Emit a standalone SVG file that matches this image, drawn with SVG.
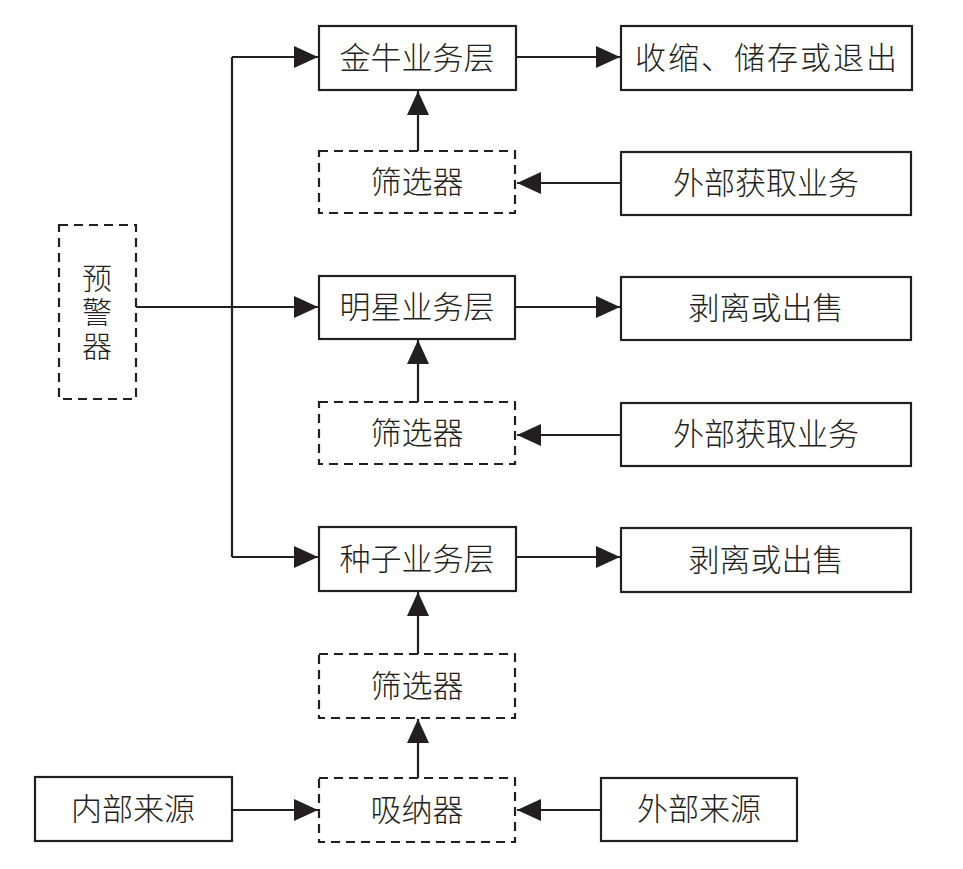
<svg xmlns="http://www.w3.org/2000/svg" width="963" height="869" viewBox="0 0 963 869">
<style>
.box{fill:#fff;stroke:#231f20;stroke-width:2.2}
.dash{fill:#fff;stroke:#231f20;stroke-width:2.2;stroke-dasharray:9 6}
.lbl{font-family:"Noto Sans CJK SC","Noto Sans CJK JP",sans-serif;font-size:31px;font-weight:300;fill:#231f20;text-anchor:middle;dominant-baseline:central}
.vl{font-size:30px;writing-mode:vertical-rl;letter-spacing:4px}
.con{fill:none;stroke:#231f20;stroke-width:2.2}
</style>
<defs>
<marker id="ah" markerUnits="userSpaceOnUse" markerWidth="24" markerHeight="22" refX="24" refY="11" orient="auto">
<path d="M0,0 L24,11 L0,22 Z" fill="#231f20"/>
</marker>
</defs>
<rect width="963" height="869" fill="#fff"/>
<g id="connectors">
<path class="con" d="M232,57 V557"/>
<path class="con" d="M232,57 H318" marker-end="url(#ah)"/>
<path class="con" d="M136,307 H318" marker-end="url(#ah)"/>
<path class="con" d="M232,557 H318" marker-end="url(#ah)"/>
<path class="con" d="M516,57 H620" marker-end="url(#ah)"/>
<path class="con" d="M418,151 V91" marker-end="url(#ah)"/>
<path class="con" d="M621,183 H517" marker-end="url(#ah)"/>
<path class="con" d="M516,307 H620" marker-end="url(#ah)"/>
<path class="con" d="M418,402 V340" marker-end="url(#ah)"/>
<path class="con" d="M621,435 H517" marker-end="url(#ah)"/>
<path class="con" d="M516,557 H620" marker-end="url(#ah)"/>
<path class="con" d="M418,654 V592" marker-end="url(#ah)"/>
<path class="con" d="M418,778 V719" marker-end="url(#ah)"/>
<path class="con" d="M232,810 H318" marker-end="url(#ah)"/>
<path class="con" d="M601,810 H517" marker-end="url(#ah)"/>
</g>
<g id="jinniu"><rect class="box" x="319" y="26" width="197" height="64"/><text class="lbl" x="417" y="55">金牛业务层</text></g>
<g id="shousuo"><rect class="box" x="621" y="26" width="291" height="64"/><text class="lbl" x="766" y="55" textLength="262" lengthAdjust="spacing">收缩、储存或退出</text></g>
<g id="filter1"><rect class="dash" x="319" y="151" width="196" height="62"/><text class="lbl" x="417" y="179">筛选器</text></g>
<g id="waibu1"><rect class="box" x="621" y="152" width="290" height="63"/><text class="lbl" x="766" y="180">外部获取业务</text></g>
<g id="yujing"><rect class="dash" x="59" y="225" width="77" height="174"/><text class="lbl vl" x="97" y="314">预警器</text></g>
<g id="mingxing"><rect class="box" x="319" y="276" width="196" height="63"/><text class="lbl" x="417" y="304">明星业务层</text></g>
<g id="boli1"><rect class="box" x="621" y="277" width="290" height="63"/><text class="lbl" x="766" y="305">剥离或出售</text></g>
<g id="filter2"><rect class="dash" x="319" y="402" width="196" height="62"/><text class="lbl" x="417" y="430">筛选器</text></g>
<g id="waibu2"><rect class="box" x="621" y="403" width="290" height="63"/><text class="lbl" x="766" y="431">外部获取业务</text></g>
<g id="zhongzi"><rect class="box" x="319" y="527" width="197" height="64"/><text class="lbl" x="417" y="556">种子业务层</text></g>
<g id="boli2"><rect class="box" x="621" y="528" width="290" height="64"/><text class="lbl" x="766" y="557">剥离或出售</text></g>
<g id="filter3"><rect class="dash" x="319" y="654" width="196" height="64"/><text class="lbl" x="417" y="683">筛选器</text></g>
<g id="neibu"><rect class="box" x="35" y="777" width="197" height="64"/><text class="lbl" x="133" y="806">内部来源</text></g>
<g id="xina"><rect class="dash" x="319" y="778" width="196" height="64"/><text class="lbl" x="417" y="807">吸纳器</text></g>
<g id="waibulaiyuan"><rect class="box" x="601" y="778" width="196" height="63"/><text class="lbl" x="699" y="806">外部来源</text></g>
</svg>
